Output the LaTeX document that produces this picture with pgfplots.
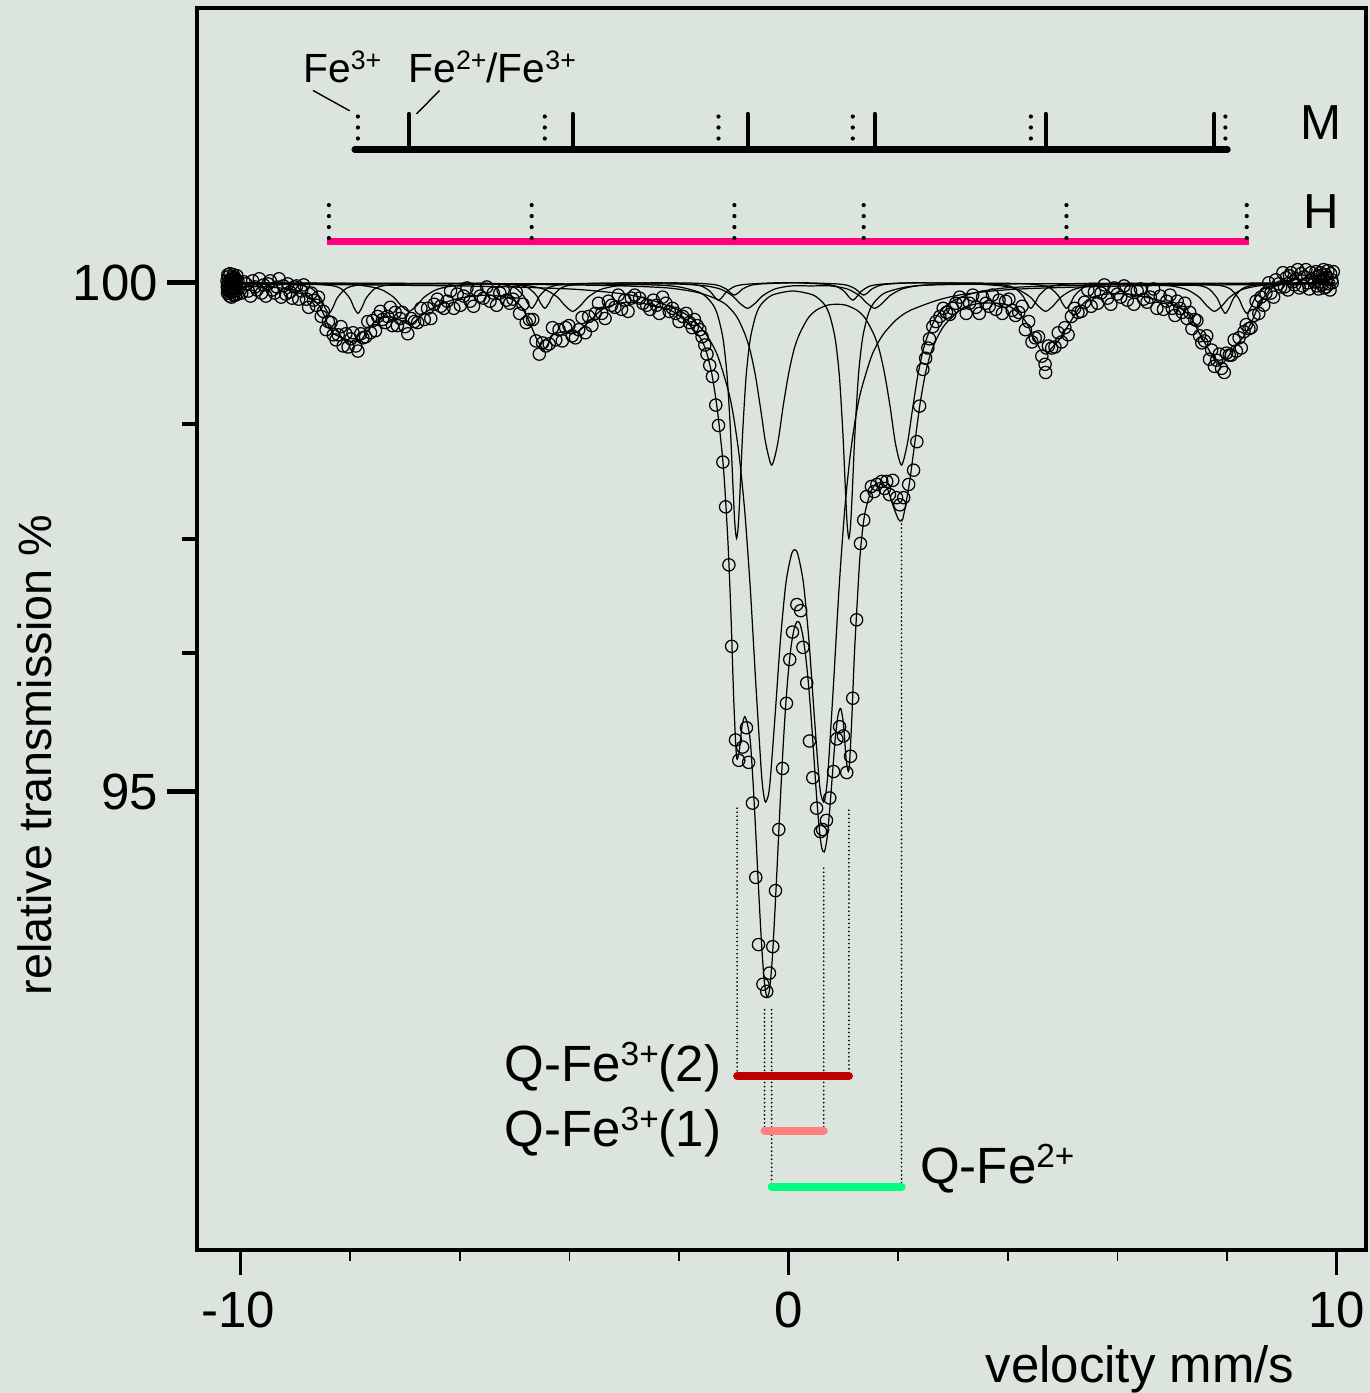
\documentclass[border=0pt]{standalone}
\usepackage{fontspec}
\setmainfont{Liberation Sans}
\usepackage{pgfplots}
\pgfplotsset{compat=1.18}

\definecolor{panel}{RGB}{220,228,222}
\definecolor{hemline}{RGB}{255,0,128}
\definecolor{qfethreeb}{RGB}{192,0,0}
\definecolor{qfethreea}{RGB}{255,128,128}
\definecolor{qfetwo}{RGB}{0,255,128}

% small raised charge labels
\newcommand{\chg}[1]{\raisebox{4.6pt}{\fontsize{9.5}{10}\selectfont #1}}
\newcommand{\chgs}[1]{\raisebox{3.6pt}{\fontsize{7.6}{8}\selectfont #1}}

\tikzset{
  comp/.style={black, line width=0.35pt, smooth, tension=0.45},
  dotmark/.style={line width=1.2pt, line cap=round, dash pattern=on 0pt off 3.13pt},
  guide/.style={line width=0.55pt, line cap=round, dash pattern=on 0pt off 1.15pt},
  lbl/.style={inner sep=0pt, font=\fontsize{14.5}{16}\selectfont},
}

\begin{document}
\begin{tikzpicture}
\path[use as bounding box, fill=panel] (-1.97cm,-1.43cm) rectangle (11.73cm,12.50cm);
\begin{axis}[
  at={(0,0)}, anchor=south west,
  scale only axis, width=11.69cm, height=12.42cm,
  xmin=-10.797, xmax=10.536, ymin=90.50, ymax=102.70,
  xtick=\empty, ytick=\empty,
  axis line style={line width=1.3pt},
  clip=false,
]

% --- sextet M, Fe3+ site
\addplot[comp] coordinates {
(-10.25,100) (-8.86,99.99) (-8.36,99.975) (-8.16,99.94) (-8.01,99.85) (-7.935,99.76) (-7.86,99.70) (-7.785,99.76) (-7.71,99.85) (-7.56,99.94) (-7.36,99.975) (-6.86,99.99)
(-5.45,99.995) (-4.95,99.98) (-4.75,99.95) (-4.60,99.875) (-4.525,99.80) (-4.45,99.75) (-4.375,99.80) (-4.30,99.875) (-4.15,99.95) (-3.95,99.98) (-3.45,99.995)
(-2.28,100) (-1.78,99.986) (-1.58,99.966) (-1.43,99.915) (-1.355,99.864) (-1.28,99.83) (-1.205,99.864) (-1.13,99.915) (-0.98,99.966) (-0.78,99.986) (-0.28,100)
(0.17,100) (0.67,99.986) (0.87,99.966) (1.02,99.915) (1.095,99.864) (1.17,99.83) (1.245,99.864) (1.32,99.915) (1.47,99.966) (1.67,99.986) (2.17,100)
(3.42,99.995) (3.92,99.98) (4.12,99.95) (4.27,99.875) (4.345,99.80) (4.42,99.75) (4.495,99.80) (4.57,99.875) (4.72,99.95) (4.92,99.98) (5.42,99.995)
(6.97,99.99) (7.47,99.975) (7.67,99.94) (7.82,99.85) (7.895,99.76) (7.97,99.70) (8.045,99.76) (8.12,99.85) (8.27,99.94) (8.47,99.975) (8.97,99.99) (9.95,100)};

% --- sextet M, Fe2+/Fe3+ site
\addplot[comp] coordinates {
(-10.25,100) (-8.23,99.988) (-7.73,99.97) (-7.43,99.933) (-7.21,99.86) (-7.07,99.776) (-6.93,99.72) (-6.79,99.776) (-6.65,99.86) (-6.43,99.933) (-6.13,99.97) (-5.63,99.988)
(-5.24,99.988) (-4.74,99.97) (-4.44,99.933) (-4.22,99.86) (-4.08,99.776) (-3.94,99.72) (-3.80,99.776) (-3.66,99.86) (-3.44,99.933) (-3.14,99.97) (-2.64,99.988)
(-2.05,99.989) (-1.55,99.973) (-1.25,99.94) (-1.03,99.875) (-0.89,99.80) (-0.75,99.75) (-0.61,99.80) (-0.47,99.875) (-0.25,99.94) (0.05,99.97) (0.41,99.97)
(0.77,99.97) (1.07,99.94) (1.29,99.875) (1.43,99.80) (1.57,99.75) (1.71,99.80) (1.85,99.875) (2.07,99.94) (2.37,99.973) (2.87,99.989)
(3.39,99.988) (3.89,99.97) (4.19,99.933) (4.41,99.86) (4.55,99.776) (4.69,99.72) (4.83,99.776) (4.97,99.86) (5.19,99.933) (5.49,99.97) (5.99,99.988)
(6.47,99.988) (6.97,99.97) (7.27,99.933) (7.49,99.86) (7.63,99.776) (7.77,99.72) (7.91,99.776) (8.05,99.86) (8.27,99.933) (8.57,99.97) (9.07,99.988) (9.95,100)};

% --- sextet H
\addplot[comp] coordinates {
(-10.25,100) (-9.39,99.99) (-8.89,99.975) (-8.69,99.94) (-8.54,99.85) (-8.465,99.76) (-8.39,99.70) (-8.315,99.76) (-8.24,99.85) (-8.09,99.94) (-7.89,99.975) (-7.39,99.99)
(-5.69,99.995) (-5.19,99.98) (-4.99,99.95) (-4.84,99.875) (-4.765,99.80) (-4.69,99.75) (-4.615,99.80) (-4.54,99.875) (-4.39,99.95) (-4.19,99.98) (-3.69,99.995)
(-1.99,100) (-1.49,99.99) (-1.29,99.976) (-1.14,99.94) (-1.065,99.904) (-0.99,99.88) (-0.915,99.904) (-0.84,99.94) (-0.69,99.976) (-0.49,99.99) (0.01,100)
(0.37,100) (0.87,99.99) (1.07,99.976) (1.22,99.94) (1.295,99.904) (1.37,99.88) (1.445,99.904) (1.52,99.94) (1.67,99.976) (1.87,99.99) (2.37,100)
(4.07,99.995) (4.57,99.98) (4.77,99.95) (4.92,99.875) (4.995,99.80) (5.07,99.75) (5.145,99.80) (5.22,99.875) (5.37,99.95) (5.57,99.98) (6.07,99.995)
(7.36,99.99) (7.86,99.975) (8.06,99.94) (8.21,99.85) (8.285,99.76) (8.36,99.70) (8.435,99.76) (8.51,99.85) (8.66,99.94) (8.86,99.975) (9.36,99.99) (9.95,100)};

% --- doublet Q-Fe3+(1)
\addplot[comp] coordinates {
(-10.25,99.99) (-6,99.97) (-4,99.94) (-3,99.89) (-2.5,99.83) (-2,99.73) (-1.75,99.64) (-1.5,99.49) (-1.3,99.29) (-1.1,98.94) (-1.0,98.67) (-0.9,98.29)
(-0.8,97.75) (-0.7,97.00) (-0.6,96.07) (-0.5,95.21) (-0.46,94.99) (-0.42,94.90) (-0.35,95.04) (-0.25,95.73) (-0.15,96.49) (-0.05,97.05) (0.05,97.33)
(0.11,97.38) (0.17,97.33) (0.27,97.05) (0.37,96.49) (0.47,95.73) (0.57,95.04) (0.64,94.90) (0.68,94.99) (0.72,95.21) (0.82,96.07) (0.92,97.00)
(1.02,97.75) (1.12,98.29) (1.22,98.67) (1.32,98.94) (1.52,99.29) (1.72,99.49) (1.97,99.64) (2.22,99.73) (2.72,99.83) (3.22,99.89) (4.22,99.94) (6.22,99.97) (9.95,99.99)};

% --- doublet Q-Fe3+(2)
\addplot[comp] coordinates {
(-10.25,100) (-4,99.99) (-2.5,99.98) (-2,99.96) (-1.6,99.90) (-1.4,99.80) (-1.3,99.69) (-1.2,99.46) (-1.125,99.10) (-1.06,98.53) (-1.01,97.93) (-0.98,97.62)
(-0.95,97.49) (-0.92,97.61) (-0.89,97.92) (-0.84,98.52) (-0.775,99.09) (-0.7,99.45) (-0.6,99.68) (-0.5,99.79) (-0.3,99.88) (0.075,99.92) (0.45,99.88)
(0.65,99.79) (0.75,99.68) (0.85,99.45) (0.925,99.09) (0.99,98.52) (1.04,97.92) (1.07,97.61) (1.10,97.49) (1.13,97.62) (1.16,97.93) (1.21,98.53)
(1.275,99.10) (1.35,99.46) (1.45,99.69) (1.55,99.80) (1.75,99.90) (2.15,99.96) (2.65,99.98) (4.15,99.99) (9.95,100)};

% --- doublet Q-Fe2+
\addplot[comp] coordinates {
(-10.25,100) (-6,99.99) (-4,99.98) (-3,99.97) (-2.2,99.95) (-1.7,99.91) (-1.4,99.86) (-1.15,99.79) (-0.95,99.67) (-0.8,99.50) (-0.7,99.33) (-0.6,99.07)
(-0.5,98.72) (-0.42,98.43) (-0.31,98.21) (-0.2,98.42) (-0.1,98.79) (0,99.11) (0.1,99.35) (0.2,99.50) (0.35,99.65) (0.5,99.73) (0.7,99.78) (0.875,99.79)
(1.05,99.78) (1.25,99.73) (1.4,99.65) (1.55,99.50) (1.65,99.35) (1.75,99.11) (1.85,98.79) (1.95,98.42) (2.06,98.21) (2.17,98.43) (2.25,98.72) (2.35,99.07)
(2.45,99.33) (2.55,99.50) (2.7,99.67) (2.9,99.79) (3.15,99.86) (3.45,99.91) (3.95,99.95) (4.75,99.97) (5.75,99.98) (7.75,99.99) (9.95,100)};

% --- total fit
\addplot[comp] coordinates {
(-10.25,99.97) (-9.50,99.96) (-9.00,99.93) (-8.80,99.88) (-8.60,99.80) (-8.50,99.71) (-8.40,99.58) (-8.30,99.50) (-8.10,99.45) (-7.95,99.42) (-7.80,99.44)
(-7.70,99.52) (-7.55,99.62) (-7.40,99.66) (-7.20,99.66) (-7.00,99.61) (-6.90,99.59) (-6.80,99.63) (-6.60,99.72) (-6.30,99.80) (-6.00,99.85) (-5.50,99.88)
(-5.10,99.85) (-4.90,99.78) (-4.75,99.64) (-4.60,99.45) (-4.50,99.36) (-4.45,99.35) (-4.40,99.39) (-4.30,99.49) (-4.10,99.52) (-3.95,99.50) (-3.80,99.54)
(-3.60,99.64) (-3.40,99.74) (-3.10,99.80) (-2.80,99.81) (-2.50,99.78) (-2.20,99.74) (-2.00,99.68) (-1.80,99.58) (-1.60,99.45) (-1.50,99.32) (-1.40,99.10)
(-1.30,98.75) (-1.20,98.25) (-1.15,97.86) (-1.10,97.37) (-1.05,96.70) (-1.00,95.88) (-0.95,95.34) (-0.90,95.41) (-0.85,95.65) (-0.80,95.74) (-0.75,95.66)
(-0.70,95.50) (-0.65,95.10) (-0.60,94.60) (-0.55,94.06) (-0.50,93.56) (-0.45,93.17) (-0.40,92.99) (-0.35,93.05) (-0.30,93.35) (-0.25,93.83) (-0.20,94.38)
(-0.15,94.94) (-0.10,95.45) (-0.05,95.88) (0.00,96.21) (0.05,96.45) (0.10,96.60) (0.15,96.67) (0.20,96.66) (0.25,96.56) (0.30,96.38) (0.35,96.13)
(0.40,95.81) (0.45,95.43) (0.50,95.03) (0.55,94.69) (0.60,94.46) (0.65,94.41) (0.70,94.54) (0.75,94.83) (0.80,95.18) (0.85,95.52) (0.90,95.75)
(0.95,95.82) (1.00,95.67) (1.05,95.32) (1.10,95.21) (1.15,95.69) (1.20,96.35) (1.25,96.85) (1.30,97.30) (1.35,97.58) (1.40,97.76) (1.50,97.95)
(1.60,98.03) (1.70,98.03) (1.80,97.98) (1.90,97.82) (2.00,97.68) (2.06,97.66) (2.10,97.72) (2.20,98.02) (2.30,98.42) (2.40,98.82) (2.50,99.12)
(2.60,99.32) (2.70,99.45) (2.80,99.55) (2.90,99.62) (3.00,99.67) (3.20,99.76) (3.50,99.80) (3.80,99.80) (4.00,99.78) (4.20,99.70) (4.35,99.60)
(4.45,99.48) (4.55,99.39) (4.62,99.32) (4.70,99.30) (4.80,99.36) (4.95,99.45) (5.10,99.58) (5.30,99.75) (5.50,99.85) (5.80,99.89) (6.20,99.89)
(6.60,99.85) (7.00,99.79) (7.30,99.69) (7.50,99.50) (7.65,99.36) (7.80,99.22) (7.90,99.20) (8.00,99.26) (8.15,99.38) (8.30,99.47) (8.45,99.62)
(8.60,99.80) (8.80,99.94) (9.10,100.02) (9.50,100.04) (9.95,100.03)};

% --- measured spectrum
\addplot[only marks, mark=o, mark size=1.75pt, mark options={line width=0.35pt, black}] coordinates {
(-10.245,99.96) (-10.235,100.08) (-10.225,99.92) (-10.215,100.01) (-10.205,99.95) (-10.195,100.09) (-10.185,99.91) (-10.175,100.00) (-10.165,99.86)
(-10.155,100.03) (-10.145,99.96) (-10.135,100.08) (-10.125,99.93) (-10.115,99.99) (-10.105,100.05) (-10.095,99.88) (-10.085,100.02) (-10.075,99.94)
(-10.25,100.02) (-10.24,99.90) (-10.23,99.99) (-10.22,100.06) (-10.21,99.93) (-10.20,99.87) (-10.19,100.03) (-10.18,99.97) (-10.17,99.94) (-10.16,100.05)
(-10.15,99.91) (-10.14,100.00) (-10.13,99.88) (-10.12,100.01) (-10.11,100.04) (-10.10,99.95) (-10.09,99.92) (-10.08,99.98) (-10.07,100.07) (-10.06,99.89) (-10.05,100.02)
(-10.02,99.96) (-9.98,99.90) (-9.94,100.01) (-9.90,99.99) (-9.86,99.92) (-9.82,99.87) (-9.78,100.02) (-9.74,99.96) (-9.70,99.93) (-9.66,100.04) (-9.62,99.90)
(-9.58,99.98) (-9.54,99.87) (-9.50,99.99) (-9.46,100.02) (-9.42,99.93) (-9.38,99.90) (-9.34,99.96) (-9.30,100.04) (-9.26,99.86) (-9.22,99.97) (-9.18,99.89)
(-9.14,99.99) (-9.10,99.91) (-9.06,99.85) (-9.02,99.96)
(-8.98,99.97) (-8.94,99.84) (-8.89,99.92) (-8.85,99.98) (-8.80,99.84) (-8.76,99.76) (-8.71,99.90) (-8.67,99.83) (-8.62,99.78) (-8.58,99.86) (-8.53,99.67)
(-8.49,99.72) (-8.44,99.54) (-8.40,99.62) (-8.35,99.61) (-8.31,99.49) (-8.26,99.44) (-8.22,99.49) (-8.17,99.57) (-8.13,99.38) (-8.08,99.50) (-8.04,99.37)
(-7.99,99.45) (-7.95,99.51) (-7.90,99.38) (-7.86,99.33) (-7.81,99.50) (-7.77,99.46) (-7.72,99.47) (-7.68,99.62) (-7.63,99.51) (-7.59,99.63) (-7.54,99.53)
(-7.50,99.67) (-7.45,99.72) (-7.41,99.64) (-7.36,99.61) (-7.32,99.67) (-7.27,99.76) (-7.23,99.58) (-7.18,99.71) (-7.14,99.58) (-7.09,99.65) (-7.05,99.71) (-7.00,99.57)
(-6.95,99.50) (-6.89,99.65) (-6.83,99.62) (-6.77,99.61) (-6.71,99.75) (-6.65,99.64) (-6.59,99.75) (-6.53,99.65) (-6.47,99.79) (-6.41,99.84) (-6.35,99.77)
(-6.29,99.75) (-6.23,99.82) (-6.17,99.92) (-6.11,99.75) (-6.05,99.89) (-5.99,99.78) (-5.93,99.87) (-5.87,99.95) (-5.81,99.82) (-5.75,99.77) (-5.69,99.93)
(-5.63,99.87) (-5.57,99.85) (-5.51,99.96) (-5.45,99.82) (-5.39,99.90) (-5.33,99.78) (-5.27,99.90) (-5.21,99.93) (-5.15,99.83) (-5.09,99.80) (-5.03,99.84)
(-4.97,99.91) (-4.91,99.70) (-4.85,99.79) (-4.79,99.61) (-4.73,99.64) (-4.67,99.64) (-4.61,99.43) (-4.55,99.30) (-4.49,99.41) (-4.43,99.38) (-4.37,99.40)
(-4.31,99.56) (-4.25,99.44) (-4.19,99.54) (-4.13,99.43) (-4.07,99.56) (-4.01,99.58) (-3.95,99.48) (-3.89,99.46) (-3.83,99.54) (-3.77,99.66) (-3.71,99.51)
(-3.65,99.67) (-3.59,99.58) (-3.53,99.70) (-3.47,99.80) (-3.41,99.70) (-3.35,99.65) (-3.29,99.82) (-3.23,99.78) (-3.17,99.76) (-3.11,99.88) (-3.05,99.74)
(-2.99,99.83) (-2.93,99.72) (-2.87,99.85) (-2.81,99.88)
(-2.72,99.85) (-2.66,99.80) (-2.59,99.78) (-2.53,99.74) (-2.47,99.83) (-2.41,99.78) (-2.36,99.70) (-2.30,99.86) (-2.24,99.80) (-2.18,99.72) (-2.12,99.75)
(-2.06,99.70) (-2.00,99.62) (-1.93,99.67) (-1.87,99.70) (-1.81,99.61) (-1.76,99.56) (-1.72,99.64) (-1.67,99.58) (-1.62,99.54) (-1.58,99.47) (-1.53,99.39)
(-1.49,99.30) (-1.44,99.19) (-1.39,99.08) (-1.33,98.80) (-1.28,98.60) (-1.20,98.24) (-1.15,97.80) (-1.09,97.23) (-1.04,96.43) (-0.97,95.51) (-0.91,95.31)
(-0.84,95.44) (-0.77,95.63) (-0.73,95.29) (-0.66,94.89) (-0.60,94.16) (-0.55,93.50) (-0.47,93.11) (-0.40,93.04) (-0.35,93.22) (-0.29,93.48) (-0.24,94.03)
(-0.18,94.63) (-0.11,95.23) (-0.04,95.87) (0.02,96.30) (0.07,96.57) (0.15,96.84) (0.22,96.78) (0.26,96.42) (0.33,96.07) (0.38,95.50) (0.44,95.14)
(0.51,94.84) (0.58,94.61) (0.62,94.63) (0.69,94.72) (0.75,94.94) (0.82,95.20) (0.88,95.52) (0.93,95.64) (1.00,95.55) (1.06,95.19) (1.13,95.35)
(1.17,95.92) (1.24,96.69) (1.31,97.44) (1.37,97.67) (1.42,97.90) (1.51,98.00) (1.56,97.95) (1.61,98.02) (1.70,98.05) (1.75,97.98) (1.79,98.05)
(1.84,97.92) (1.90,98.06) (1.97,97.89) (2.03,97.82) (2.10,97.89) (2.19,98.02) (2.28,98.16) (2.34,98.44) (2.39,98.79) (2.45,99.15) (2.50,99.26)
(2.54,99.36) (2.57,99.45) (2.63,99.57) (2.69,99.62) (2.76,99.67) (2.82,99.75) (2.88,99.71) (2.94,99.69) (2.99,99.75) (3.05,99.80) (3.12,99.86)
(3.18,99.80) (3.24,99.70) (3.30,99.80) (3.36,99.88) (3.42,99.76) (3.48,99.70) (3.54,99.86) (3.60,99.80) (3.66,99.77) (3.72,99.88) (3.78,99.74)
(3.84,99.83) (3.90,99.70) (3.96,99.82) (4.02,99.84) (4.08,99.73) (4.14,99.68) (4.20,99.71) (4.26,99.77) (4.32,99.54) (4.38,99.62) (4.44,99.42)
(4.50,99.46) (4.56,99.47) (4.62,99.28) (4.68,99.20) (4.69,99.12) (4.74,99.38) (4.80,99.36) (4.86,99.37) (4.92,99.51) (4.98,99.42) (5.04,99.56)
(5.10,99.49) (5.16,99.67) (5.22,99.75) (5.28,99.71) (5.34,99.72) (5.40,99.81) (5.46,99.93) (5.52,99.77) (5.58,99.91) (5.64,99.80) (5.70,99.90)
(5.76,99.98) (5.82,99.85) (5.88,99.79) (5.94,99.95) (6.00,99.89) (6.06,99.86) (6.12,99.97) (6.18,99.83) (6.24,99.92) (6.30,99.79) (6.36,99.92)
(6.42,99.94) (6.48,99.84) (6.54,99.81) (6.60,99.86) (6.66,99.94) (6.72,99.75) (6.78,99.87) (6.84,99.74) (6.90,99.82) (6.96,99.88)
(7.00,99.75) (7.05,99.68) (7.09,99.82) (7.14,99.75) (7.18,99.71) (7.23,99.80) (7.27,99.65) (7.32,99.71) (7.36,99.55) (7.41,99.64) (7.45,99.63)
(7.50,99.48) (7.54,99.41) (7.59,99.43) (7.63,99.48) (7.68,99.25) (7.72,99.34) (7.77,99.18) (7.81,99.24) (7.86,99.30) (7.90,99.16) (7.95,99.12)
(7.99,99.31) (8.04,99.29) (8.08,99.29) (8.13,99.44) (8.17,99.33) (8.22,99.46) (8.26,99.36) (8.31,99.52) (8.35,99.59) (8.40,99.55) (8.44,99.56)
(8.49,99.68) (8.53,99.82) (8.58,99.70) (8.62,99.86) (8.67,99.78) (8.71,99.90) (8.76,100.00) (8.80,99.90) (8.85,99.86) (8.89,100.03) (8.94,99.99) (8.98,99.96)
(9.02,100.10) (9.05,99.96) (9.08,100.05) (9.11,99.93) (9.14,100.07) (9.17,100.10) (9.20,100.01) (9.23,99.98) (9.26,100.04) (9.29,100.13) (9.32,99.95)
(9.35,100.09) (9.38,99.97) (9.41,100.06) (9.44,100.13) (9.47,100.00) (9.50,99.94) (9.53,100.10) (9.56,100.04) (9.59,100.01)
(9.62,100.11) (9.64,99.97) (9.65,100.06) (9.67,99.94) (9.68,100.07) (9.70,100.10) (9.72,100.01) (9.73,99.98) (9.75,100.04) (9.76,100.13) (9.78,99.95)
(9.80,100.08) (9.81,99.96) (9.83,100.05) (9.84,100.12) (9.86,99.99) (9.88,99.93) (9.89,100.09) (9.91,100.03) (9.92,100.00) (9.94,100.11)};

% --- line positions of the magnetic sextets
\draw[line width=1.8pt, line cap=round] (axis cs:-7.92,101.31) -- (axis cs:8.01,101.31);
\draw[line width=1.15pt, line cap=round] (axis cs:-6.93,101.31) -- (axis cs:-6.93,101.66);
\draw[line width=1.15pt, line cap=round] (axis cs:-3.94,101.31) -- (axis cs:-3.94,101.66);
\draw[line width=1.15pt, line cap=round] (axis cs:-0.75,101.31) -- (axis cs:-0.75,101.66);
\draw[line width=1.15pt, line cap=round] (axis cs:1.57,101.31) -- (axis cs:1.57,101.66);
\draw[line width=1.15pt, line cap=round] (axis cs:4.69,101.31) -- (axis cs:4.69,101.66);
\draw[line width=1.15pt, line cap=round] (axis cs:7.77,101.31) -- (axis cs:7.77,101.66);
\draw[dotmark] (axis cs:-7.86,101.31) -- (axis cs:-7.86,101.65);
\draw[dotmark] (axis cs:-4.45,101.31) -- (axis cs:-4.45,101.65);
\draw[dotmark] (axis cs:-1.28,101.31) -- (axis cs:-1.28,101.65);
\draw[dotmark] (axis cs:1.17,101.31) -- (axis cs:1.17,101.65);
\draw[dotmark] (axis cs:4.42,101.31) -- (axis cs:4.42,101.65);
\draw[dotmark] (axis cs:7.97,101.31) -- (axis cs:7.97,101.65);

\draw[hemline, line width=2pt] (axis cs:-8.43,100.41) -- (axis cs:8.41,100.41);
\draw[dotmark] (axis cs:-8.39,100.44) -- (axis cs:-8.39,100.78);
\draw[dotmark] (axis cs:-4.69,100.44) -- (axis cs:-4.69,100.78);
\draw[dotmark] (axis cs:-0.99,100.44) -- (axis cs:-0.99,100.78);
\draw[dotmark] (axis cs:1.37,100.44) -- (axis cs:1.37,100.78);
\draw[dotmark] (axis cs:5.07,100.44) -- (axis cs:5.07,100.78);
\draw[dotmark] (axis cs:8.36,100.44) -- (axis cs:8.36,100.78);

\draw[line width=0.4pt] (axis cs:-8.68,101.89) -- (axis cs:-8.01,101.69);
\draw[line width=0.4pt] (axis cs:-6.37,101.89) -- (axis cs:-6.79,101.66);
\node[anchor=base west, inner sep=0pt, font=\fontsize{11.6}{13}\selectfont] at (axis cs:-8.87,101.97) {Fe\chgs{3+}};
\node[anchor=base west, inner sep=0pt, font=\fontsize{11.6}{13}\selectfont] at (axis cs:-6.95,101.97) {Fe\chgs{2+}/Fe\chgs{3+}};
\node[anchor=base west, inner sep=0pt, font=\fontsize{14}{16}\selectfont] at (axis cs:9.32,101.405) {M};
\node[anchor=base west, inner sep=0pt, font=\fontsize{14}{16}\selectfont] at (axis cs:9.38,100.53) {H};

% --- quadrupole doublets
\draw[guide] (axis cs:-0.94,94.84) -- (axis cs:-0.94,92.21);
\draw[guide] (axis cs:1.10,94.82) -- (axis cs:1.10,92.21);
\draw[guide] (axis cs:-0.44,92.86) -- (axis cs:-0.44,91.67);
\draw[guide] (axis cs:0.64,94.25) -- (axis cs:0.64,91.67);
\draw[guide] (axis cs:-0.31,92.86) -- (axis cs:-0.31,91.12);
\draw[guide] (axis cs:2.06,97.67) -- (axis cs:2.06,91.12);
\draw[qfethreeb, line width=2.3pt, line cap=round] (axis cs:-0.94,92.21) -- (axis cs:1.10,92.21);
\draw[qfethreea, line width=2.3pt, line cap=round] (axis cs:-0.44,91.67) -- (axis cs:0.64,91.67);
\draw[qfetwo, line width=2.3pt, line cap=round] (axis cs:-0.31,91.12) -- (axis cs:2.06,91.12);
\node[lbl, anchor=east] at (axis cs:-1.22,92.30) {Q-Fe\chg{3+}(2)};
\node[lbl, anchor=east] at (axis cs:-1.22,91.66) {Q-Fe\chg{3+}(1)};
\node[lbl, anchor=west] at (axis cs:2.39,91.30) {Q-Fe\chg{2+}};

% --- ticks
\draw[line width=0.9pt] (axis cs:-10,90.5) -- ([yshift=-2.5mm]axis cs:-10,90.5);
\draw[line width=0.9pt] (axis cs:0,90.5) -- ([yshift=-2.5mm]axis cs:0,90.5);
\draw[line width=0.9pt] (axis cs:10,90.5) -- ([yshift=-2.5mm]axis cs:10,90.5);
\draw[line width=0.45pt] (axis cs:-8,90.5) -- ([yshift=-1.1mm]axis cs:-8,90.5);
\draw[line width=0.45pt] (axis cs:-6,90.5) -- ([yshift=-1.1mm]axis cs:-6,90.5);
\draw[line width=0.45pt] (axis cs:-4,90.5) -- ([yshift=-1.1mm]axis cs:-4,90.5);
\draw[line width=0.45pt] (axis cs:-2,90.5) -- ([yshift=-1.1mm]axis cs:-2,90.5);
\draw[line width=0.45pt] (axis cs:2,90.5) -- ([yshift=-1.1mm]axis cs:2,90.5);
\draw[line width=0.45pt] (axis cs:4,90.5) -- ([yshift=-1.1mm]axis cs:4,90.5);
\draw[line width=0.45pt] (axis cs:6,90.5) -- ([yshift=-1.1mm]axis cs:6,90.5);
\draw[line width=0.45pt] (axis cs:8,90.5) -- ([yshift=-1.1mm]axis cs:8,90.5);
\draw[line width=1.4pt] (axis cs:-10.797,100) -- ([xshift=-3mm]axis cs:-10.797,100);
\draw[line width=1.4pt] (axis cs:-10.797,95) -- ([xshift=-3mm]axis cs:-10.797,95);
\draw[line width=1.1pt] (axis cs:-10.797,98.615) -- ([xshift=-1.5mm]axis cs:-10.797,98.615);
\draw[line width=1.1pt] (axis cs:-10.797,97.485) -- ([xshift=-1.5mm]axis cs:-10.797,97.485);
\draw[line width=1.1pt] (axis cs:-10.797,96.365) -- ([xshift=-1.5mm]axis cs:-10.797,96.365);

\node[lbl, anchor=east] at (axis cs:-11.50,100) {100};
\node[lbl, anchor=east] at (axis cs:-11.50,95) {95};
\node[lbl] at ([yshift=-6mm]axis cs:-10.05,90.5) {-10};
\node[lbl] at ([yshift=-6mm]axis cs:0,90.5) {0};
\node[lbl] at ([yshift=-6mm]axis cs:10,90.5) {10};
\node[lbl] at ([yshift=-11.9mm]axis cs:6.41,90.5) {velocity mm/s};
\node[inner sep=0pt, rotate=90, font=\fontsize{13.3}{15}\selectfont] at ([xshift=-16.2mm]axis cs:-10.797,95.36) {relative transmission \%};
\end{axis}
\end{tikzpicture}
\end{document}
